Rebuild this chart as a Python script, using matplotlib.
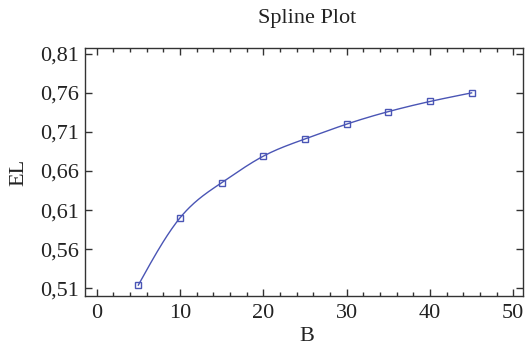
import numpy as np
import matplotlib
matplotlib.use("Agg")
import matplotlib.pyplot as plt
from matplotlib.ticker import MultipleLocator, FuncFormatter, FixedLocator, NullLocator

B = [5, 10, 15, 20, 25, 30, 35, 40, 45]
EL = [0.514, 0.600, 0.645, 0.679, 0.701, 0.720, 0.736, 0.749, 0.760]
y_ticks = [0.51, 0.56, 0.61, 0.66, 0.71, 0.76, 0.81]

plt.rcParams['font.family'] = ['Liberation Serif', 'DejaVu Serif']

def natural_spline(x, y, n=300):
    x = np.asarray(x, float); y = np.asarray(y, float)
    m = len(x); h = np.diff(x)
    A = np.zeros((m, m)); r = np.zeros(m)
    A[0, 0] = A[-1, -1] = 1
    for i in range(1, m - 1):
        A[i, i - 1] = h[i - 1]; A[i, i] = 2 * (h[i - 1] + h[i]); A[i, i + 1] = h[i]
        r[i] = 3 * ((y[i + 1] - y[i]) / h[i] - (y[i] - y[i - 1]) / h[i - 1])
    c = np.linalg.solve(A, r)
    b = (y[1:] - y[:-1]) / h - h * (2 * c[:-1] + c[1:]) / 3
    d = (c[1:] - c[:-1]) / (3 * h)
    xs = np.linspace(x[0], x[-1], n)
    idx = np.clip(np.searchsorted(x, xs) - 1, 0, m - 2)
    dx = xs - x[idx]
    ys = y[idx] + b[idx] * dx + c[idx] * dx ** 2 + d[idx] * dx ** 3
    return xs, ys

fig = plt.figure(figsize=(5.28, 3.45), dpi=100)
ax = fig.add_axes([0.161, 0.142, 0.830, 0.719])
col = '#4a55b5'
xs, ys = natural_spline(B, EL)
ax.plot(xs, ys, color=col, lw=1.0)
ax.plot(B, EL, ls='none', marker='s', ms=4, mfc='none', mec=col, mew=1.0)

ax.set_xlim(-1.4, 51.2)
ax.set_ylim(0.5, 0.8175)
ax.xaxis.set_major_locator(MultipleLocator(10))
ax.xaxis.set_minor_locator(MultipleLocator(2))
ax.yaxis.set_major_locator(FixedLocator(y_ticks))
ax.yaxis.set_minor_locator(NullLocator())
ax.yaxis.set_major_formatter(FuncFormatter(lambda v, p: f"{v:.2f}".replace('.', ',')))
ax.tick_params(which='both', direction='in', top=True, right=True, labelsize=16,
               colors='#333333', labelcolor='#222222')
ax.tick_params(which='major', length=5, width=1)
ax.tick_params(which='minor', length=3, width=1)
ax.tick_params(axis='x', pad=6)
ax.tick_params(axis='y', pad=4)
for s in ax.spines.values():
    s.set_color('#333333'); s.set_linewidth(1.0)

fig.text(19 / 528, 1 - 172 / 345, 'EL', rotation=90, fontsize=16, color='#222222',
         ha='center', va='center')
fig.text(307 / 528, 1 - 327 / 345, 'B', fontsize=16, color='#222222', ha='center', va='top')
fig.text(307 / 528, 1 - 18 / 345, 'Spline Plot', fontsize=16, color='#222222',
         ha='center', va='center')

fig.savefig('out.png', dpi=100)
